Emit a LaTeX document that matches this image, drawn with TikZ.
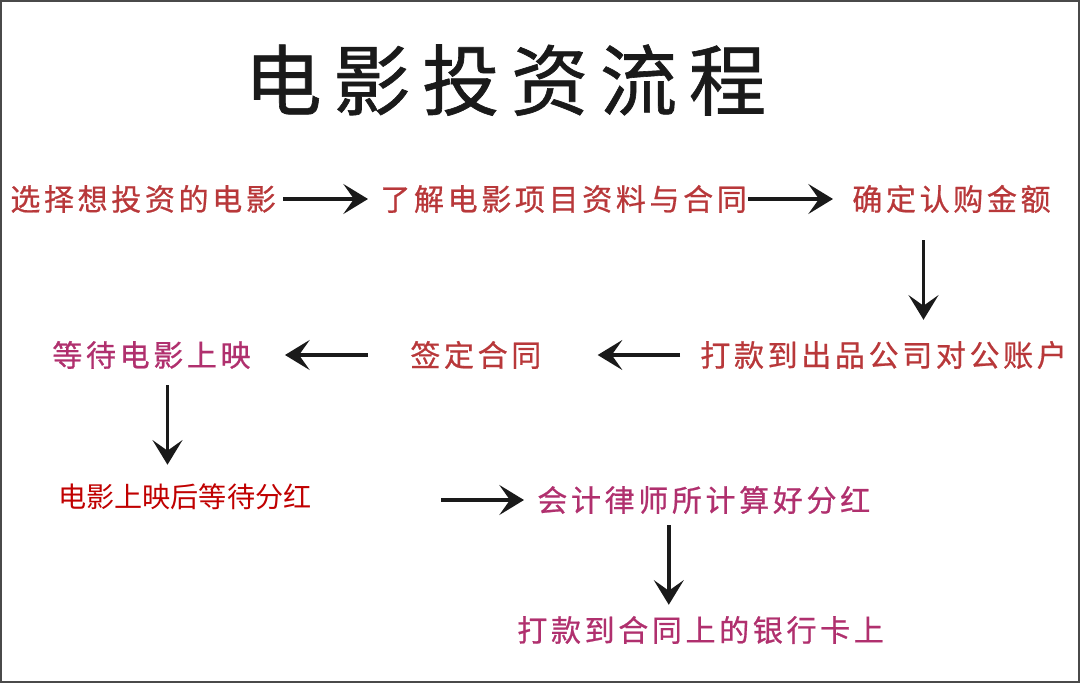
\documentclass[tikz,border=0pt]{standalone}
\usepackage{fontspec}
\usepackage{xcolor}
\usepackage{tikz}
\usetikzlibrary{arrows.meta}
\newfontfamily\cjk{Noto Sans CJK SC}
\newfontfamily\cjkspaced[LetterSpace=12, FakeBold=0.7]{Noto Sans CJK SC}
\newfontfamily\cjktitle[LetterSpace=15, FakeBold=0.8]{Noto Sans CJK SC}
\definecolor{fRed}{HTML}{B8383A}
\definecolor{fPlum}{HTML}{B0306E}
\definecolor{fCrimson}{HTML}{C00000}
\definecolor{fInk}{HTML}{1A1A1A}
\definecolor{fFrame}{HTML}{4A4A4A}
\tikzset{
  basetext/.style={anchor=west, inner sep=0pt},
  titletext/.style={basetext, text=fInk, text height=37pt, text depth=3.5pt,
    font=\cjktitle\fontsize{44pt}{50pt}\selectfont},
  steptext/.style={basetext, text height=14.4pt, text depth=1.4pt,
    font=\cjkspaced\fontsize{17.1pt}{20pt}\selectfont},
  redstep/.style={steptext, text=fRed},
  plumstep/.style={steptext, text=fPlum},
  profittext/.style={basetext, text=fCrimson, text height=13.4pt, text depth=1.3pt,
    font=\cjk\fontsize{16pt}{19pt}\selectfont},
  flowarrow/.style={-{Stealth[length=14pt, width=17pt, inset=6pt]}, line width=2.1pt, draw=fInk},
}

\begin{document}
\begin{tikzpicture}[x=0.02cm, y=-0.02cm]
  \useasboundingbox (0,0) rectangle (1080,683);
  \draw[fFrame, line width=0.04cm] (1,1) rectangle (1079,682);
  \node[titletext] (title) at (244,80) {电影投资流程};
  \node[redstep] (choose) at (10,199) {选择想投资的电影};
  \node[redstep] (learn) at (380,199) {了解电影项目资料与合同};
  \node[redstep] (confirm) at (852,199) {确定认购金额};
  \node[redstep] (pay) at (700,355) {打款到出品公司对公账户};
  \node[redstep] (sign) at (410,355) {签定合同};
  \node[plumstep] (wait) at (52,355) {等待电影上映};
  \node[profittext] (profit) at (58,497) {电影上映后等待分红};
  \node[plumstep] (account) at (537,500) {会计律师所计算好分红};
  \node[plumstep] (bank) at (517,630) {打款到合同上的银行卡上};
  \coordinate (feed) at (441,500);
  \draw[flowarrow, shorten <=0.14cm, shorten >=0.24cm] (choose) -- (learn);
  \draw[flowarrow, shorten <=0.02cm, shorten >=0.38cm] (learn) -- (confirm);
  \draw[flowarrow, shorten <=0.54cm, shorten >=0.42cm] ([xshift=-0.56cm]confirm.south) -- ([xshift=-0.56cm]confirm.south |- pay.north);
  \draw[flowarrow, shorten <=0.4cm, shorten >=1.12cm] (pay) -- (sign);
  \draw[flowarrow, shorten <=0.84cm, shorten >=0.68cm] (sign) -- (wait);
  \draw[flowarrow, shorten <=0.32cm, shorten >=0.38cm] ([xshift=0.32cm]wait.south) -- ([xshift=0.32cm]wait.south |- profit.north);
  \draw[flowarrow, shorten >=0.26cm] (feed) -- (account);
  \draw[flowarrow, shorten <=0.22cm, shorten >=0.22cm] ([xshift=-0.7cm]account.south) -- ([xshift=-0.7cm]account.south |- bank.north);
\end{tikzpicture}
\end{document}
